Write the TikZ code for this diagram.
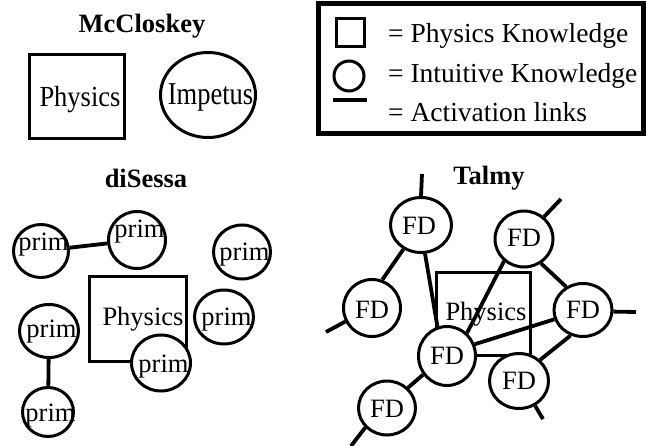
\documentclass[tikz,border=0pt]{standalone}
\usepackage{fontspec}
\setmainfont{Liberation Serif}
\usetikzlibrary{shapes.geometric}
% #1 text, #2 horizontal extra (shifts by half), #3 baseline drop below centre
\newcommand{\ctext}[3]{\makebox[0pt]{\hspace{#2}\raisebox{-#3}{#1}}}
\tikzset{
  txt/.style={font=\fontsize{26.5}{30}\selectfont, inner sep=0pt},
  ttl/.style={font=\bfseries\fontsize{26.5}{30}\selectfont, inner sep=0pt, anchor=base},
  lgt/.style={font=\fontsize{27.5}{31}\selectfont, inner sep=0pt, anchor=base west},
  oval/.style 2 args={ellipse, draw, line width=3pt, fill=white, inner sep=0pt,
     minimum width=#1, minimum height=#2, text height=0pt, text depth=0pt,
     font=\fontsize{26.5}{30}\selectfont},
  boxl/.style={draw, line width=3pt},
  link/.style={line width=3.8pt},
}
\begin{document}
\begin{tikzpicture}[x=1pt,y=-1pt]
\useasboundingbox (0,0) rectangle (650,446);
% ---------- McCloskey ----------
\node[ttl] (tmc) at (142,33) {McCloskey};
\draw[boxl] (29.5,54.5) rectangle (124.5,138.5);
\node[txt, anchor=base] (phys1) at (80,107) {\scalebox{1}[1.1]{Physics}};
\node[oval={95pt}{85pt}] (imp) at (208,95) {\ctext{\scalebox{1}[1.2]{Impetus}}{5pt}{10pt}};
% ---------- Legend ----------
\draw[line width=5pt] (318,4) rectangle (643,134);
\node[draw, line width=3pt, minimum size=28pt, inner sep=0pt] (lsq) at (350,33) {};
\node[circle, draw, line width=3pt, minimum size=30pt, inner sep=0pt] (lci) at (349,76) {};
\coordinate (ll1) at (333,100);
\coordinate (ll2) at (367,100);
\draw[line width=4pt] (ll1) -- (ll2);
\node[lgt] (lt1) at (388,43) {= Physics Knowledge};
\node[lgt] (lt2) at (388,83) {= Intuitive Knowledge};
\node[lgt] (lt3) at (388,122) {= Activation links};
% ---------- diSessa ----------
\node[ttl] (tdi) at (146,188) {diSessa};
\draw[boxl] (89.5,276.5) rectangle (186.5,361.5);
\node[txt, anchor=base] (phys2) at (143,325) {Physics};
\node[oval={55pt}{53pt}] (p1) at (41,251) {\ctext{prim}{5pt}{0pt}};
\node[oval={57pt}{57pt}] (p2) at (137,240) {\ctext{prim}{5pt}{-2pt}};
\node[oval={57pt}{54pt}] (p3) at (242,252) {\ctext{prim}{5pt}{9pt}};
\node[oval={59pt}{54pt}] (p4) at (224,317) {\ctext{prim}{5pt}{8pt}};
\node[oval={59pt}{53pt}] (p5) at (49,331) {\ctext{prim}{5pt}{6pt}};
\node[oval={51pt}{49pt}] (p6) at (48,412) {\ctext{prim}{5pt}{9pt}};
\node[oval={59pt}{56pt}] (p7) at (161,363) {\ctext{prim}{5pt}{9pt}};
\draw[link] (p1) -- (p2);
\draw[link] (p5) -- (p6);
% ---------- Talmy ----------
\node[ttl] (tta) at (489,185) {Talmy};
\draw[draw, line width=3pt] (436,272) rectangle (530,355);
\node[txt, anchor=base] (phys3) at (486,320) {Physics};
\node[oval={61pt}{55pt}] (A) at (421,225) {\ctext{FD}{-4pt}{10pt}};
\node[oval={58pt}{56pt}] (B) at (524,239) {\ctext{FD}{0pt}{8pt}};
\node[oval={57pt}{57pt}] (C) at (372,308) {\ctext{FD}{0pt}{10pt}};
\node[oval={58pt}{53pt}] (D) at (583,310) {\ctext{FD}{0pt}{8pt}};
\node[oval={57pt}{59pt}] (E) at (447,356) {\ctext{FD}{0pt}{8pt}};
\node[oval={59pt}{55pt}] (F) at (519,381) {\ctext{FD}{0pt}{8pt}};
\node[oval={57pt}{54pt}] (G) at (387,408) {\ctext{FD}{0pt}{9pt}};
\draw[link] (A.234) -- (C.70);
\draw[link] (A.278) -- (E.108);
\draw[link] (B.228) -- (E.49);
\draw[link] (B.305) -- (D.126);
\draw[link] (E.23) -- (D.198);
\draw[link] (D.244) -- (F.45);
\draw[link] (E.218) -- (G.44);
\coordinate (sa) at (422,174);
\coordinate (sb) at (561,199);
\coordinate (sc) at (326,332);
\coordinate (sd) at (636,312);
\coordinate (sf) at (543,419);
\coordinate (sg) at (351,446);
\draw[link] (A.90) -- (sa);
\draw[link] (B.48) -- (sb);
\draw[link] (C.207) -- (sc);
\draw[link] (D.-3) -- (sd);
\draw[link] (F.-57) -- (sf);
\draw[link] (G.222) -- (sg);
\end{tikzpicture}
\end{document}
